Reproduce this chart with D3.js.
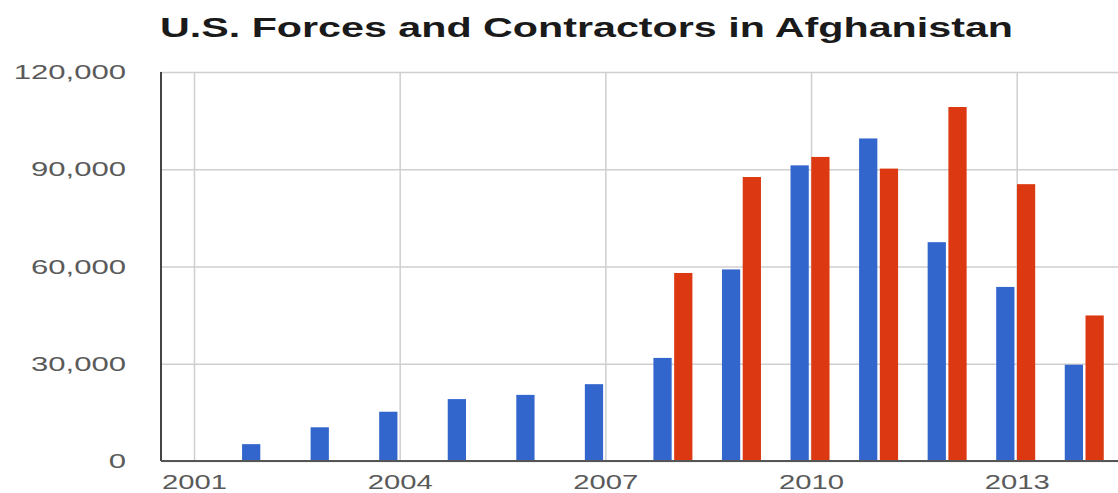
<!DOCTYPE html>
<html>
<head>
<meta charset="utf-8">
<script src="https://cdn.jsdelivr.net/npm/d3@7"></script>
<style>
  body { margin: 0; background: #fff; }
  text { font-family: "Liberation Sans", Arial, sans-serif; }
</style>
</head>
<body>
<div id="main"></div>
<script>
const years = [2002, 2003, 2004, 2005, 2006, 2007, 2008, 2009, 2010, 2011, 2012, 2013, 2014]
const forces = [5200, 10400, 15200, 19100, 20400, 23700, 31800, 59100, 91200, 99500, 67500, 53700, 29700]
const contractors = [null, null, null, null, null, null, 58000, 87600, 93800, 90200, 109200, 85400, 44900]
const seriesNames = ["U.S. Forces", "Contractors"]
const xTicks = [2001, 2004, 2007, 2010, 2013]
const yTicks = [0, 30000, 60000, 90000, 120000]
const title = "U.S. Forces and Contractors in Afghanistan"

const width = 1118
const height = 493
const margin = { top: 72, right: 0, bottom: 32, left: 161 }
const colors = ["#3366cc", "#dc3912"]

const svg = d3.select("#main").append("svg")
  .attr("width", width)
  .attr("height", height)

const xScale = d3.scaleLinear()
  .domain([2001, 2013])
  .range([194, 1016.7])

const yScale = d3.scaleLinear()
  .domain([0, 120000])
  .range([height - margin.bottom, margin.top])

const inner = d3.scaleBand()
  .domain(seriesNames)
  .range([-20.5, 18.5])
  .paddingInner(0.12)

// stretch text horizontally like the original screenshot
function stretch(sel, k) {
  sel.each(function() {
    const len = this.getComputedTextLength()
    d3.select(this).attr("textLength", len * k).attr("lengthAdjust", "spacingAndGlyphs")
  })
}

const yAxis = d3.axisLeft(yScale)
  .tickValues(yTicks)
  .tickFormat(d3.format(","))
  .tickSize(-(width - margin.left))
  .tickPadding(35)

const xAxis = d3.axisBottom(xScale)
  .tickValues(xTicks)
  .tickFormat(d3.format("d"))
  .tickSize(-(height - margin.top - margin.bottom))
  .tickPadding(14)

const gy = svg.append("g")
  .attr("transform", `translate(${margin.left},0)`)
  .call(yAxis)
gy.select(".domain").remove()
gy.selectAll("line").attr("stroke", "#cfcfcf").attr("stroke-width", 1.5)
gy.selectAll("text")
  .attr("fill", "#5a5a5a")
  .style("font-size", "21px")
  .call(stretch, 1.48)

const gx = svg.append("g")
  .attr("transform", `translate(0,${height - margin.bottom})`)
  .call(xAxis)
gx.select(".domain").remove()
gx.selectAll("line").attr("stroke", "#cfcfcf").attr("stroke-width", 1.5)
gx.selectAll("text")
  .attr("fill", "#5a5a5a")
  .style("font-size", "20px")
  .call(stretch, 1.46)

const rows = years.map((y, i) => ({ year: y, values: [forces[i], contractors[i]] }))

svg.append("g")
  .selectAll("g")
  .data(rows)
  .join("g")
  .selectAll("rect")
  .data(d => d.values.map((v, j) => ({ year: d.year, value: v, j })).filter(d => d.value != null))
  .join("rect")
  .attr("x", d => xScale(d.year) + inner(seriesNames[d.j]))
  .attr("width", inner.bandwidth())
  .attr("y", d => yScale(d.value))
  .attr("height", d => yScale(0) - yScale(d.value))
  .attr("fill", d => colors[d.j])

// axis lines
svg.append("line")
  .attr("x1", margin.left).attr("x2", margin.left)
  .attr("y1", yScale(120000)).attr("y2", yScale(0))
  .attr("stroke", "#444").attr("stroke-width", 2)
svg.append("line")
  .attr("x1", margin.left).attr("x2", width)
  .attr("y1", yScale(0)).attr("y2", yScale(0))
  .attr("stroke", "#555").attr("stroke-width", 2)

svg.append("text")
  .attr("x", 160)
  .attr("y", 37)
  .attr("fill", "#1a1a1a")
  .style("font-size", "27px")
  .style("font-weight", "bold")
  .attr("textLength", 853)
  .attr("lengthAdjust", "spacingAndGlyphs")
  .text(title)
</script>
</body>
</html>
